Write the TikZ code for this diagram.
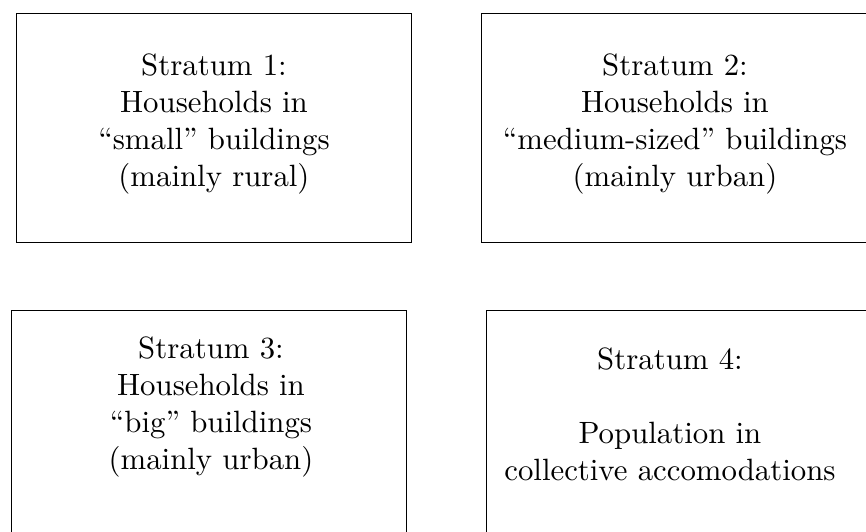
\documentclass[tikz,border=0pt]{standalone}
\begin{document}
\begin{tikzpicture}[x=0.3247pt,y=-0.3247pt,
  box/.style={draw,line width=0.45pt,inner sep=0pt,minimum width=128.2pt,minimum height=74.35pt,anchor=north west},
  txt/.style={align=center,inner sep=0pt,anchor=north,font=\normalsize}]
\useasboundingbox (0,0) rectangle (866,532);
\clip (0,0) rectangle (866,532);
\node[box] (s1) at (16,13) {};
\node[box] (s2) at (481,13) {};
\node[box] (s3) at (11,310) {};
\node[box] (s4) at (486,310) {};
\node[txt] (t1) at (214,53.5) {Stratum 1:\\ Households in\\ ``small'' buildings\\ (mainly rural)};
\node[txt] (t2) at (675,53.5) {Stratum 2:\\ Households in\\ ``medium-sized'' buildings\\ (mainly urban)};
\node[txt] (t3) at (211,336.5) {Stratum 3:\\ Households in\\ ``big'' buildings\\ (mainly urban)};
\node[txt] (t4) at (670,347) {Stratum 4:\\ \mbox{}\\ Population in\\ collective accomodations};
\end{tikzpicture}
\end{document}
